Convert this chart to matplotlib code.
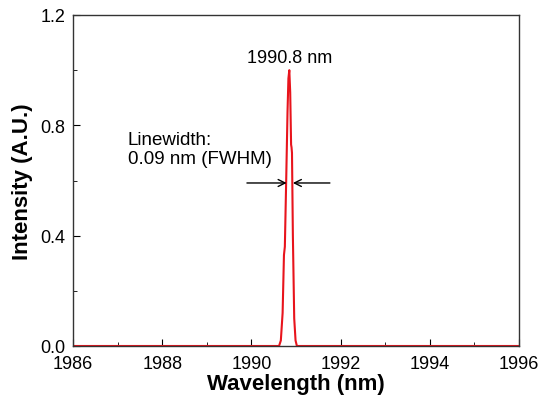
import matplotlib

matplotlib.use("Agg")
import matplotlib.pyplot as plt
from matplotlib.ticker import MultipleLocator

# spectrum (nm, a.u.)
wavelength = [1986.0, 1990.55, 1990.62, 1990.66, 1990.70, 1990.73, 1990.75,
              1990.78, 1990.81, 1990.83, 1990.85, 1990.87, 1990.89, 1990.90,
              1990.91, 1990.93, 1990.96, 1990.99, 1991.02, 1996.0]
intensity = [0.0, 0.0, 0.0, 0.02, 0.12, 0.33, 0.36,
             0.60, 0.85, 0.97, 1.0, 0.92, 0.73, 0.72,
             0.70, 0.40, 0.10, 0.02, 0.0, 0.0]

peak_label = "1990.8 nm"
lw_label = "Linewidth:\n0.09 nm (FWHM)"

plt.rcParams["font.family"] = ["Liberation Sans", "DejaVu Sans"]

fig = plt.figure(figsize=(5.43, 4.02), dpi=100)
ax = fig.add_axes([73 / 543, 1 - 347 / 402, 446 / 543, 331 / 402])

ax.plot(wavelength, intensity, color="#e8141c", lw=1.5)

ax.set_xlim(1986, 1996)
ax.set_ylim(0, 1.2)
ax.xaxis.set_major_locator(MultipleLocator(2))
ax.xaxis.set_minor_locator(MultipleLocator(1))
ax.yaxis.set_major_locator(MultipleLocator(0.4))
ax.yaxis.set_minor_locator(MultipleLocator(0.2))
ax.yaxis.set_major_formatter(lambda v, p: f"{v:.1f}")
ax.tick_params(which="both", direction="in", labelsize=13, top=False, right=False)
ax.tick_params(which="major", length=5)
ax.tick_params(which="minor", length=3)
ax.tick_params(axis="x", which="major", pad=6.5)
ax.tick_params(axis="y", which="major", pad=5.5)
for s in ax.spines.values():
    s.set_linewidth(1.0)
    s.set_color("#333333")

ax.set_xlabel("Wavelength (nm)", fontsize=16, fontweight="bold", labelpad=1)
ax.set_ylabel("Intensity (A.U.)", fontsize=16, fontweight="bold", labelpad=5)

ax.text(1990.85, 1.045, peak_label, ha="center", va="center", fontsize=13)
ax.text(1987.23, 0.714, lw_label, ha="left", va="center", fontsize=13.5,
        linespacing=1.1)
ax.annotate("", xy=(1990.79, 0.591), xytext=(1989.9, 0.591),
            arrowprops=dict(arrowstyle="->,head_length=0.5,head_width=0.25",
                            color="black", lw=1.0, shrinkA=0, shrinkB=0))
ax.annotate("", xy=(1990.93, 0.591), xytext=(1991.76, 0.591),
            arrowprops=dict(arrowstyle="->,head_length=0.5,head_width=0.25",
                            color="black", lw=1.0, shrinkA=0, shrinkB=0))

fig.savefig("out.png", dpi=100)
